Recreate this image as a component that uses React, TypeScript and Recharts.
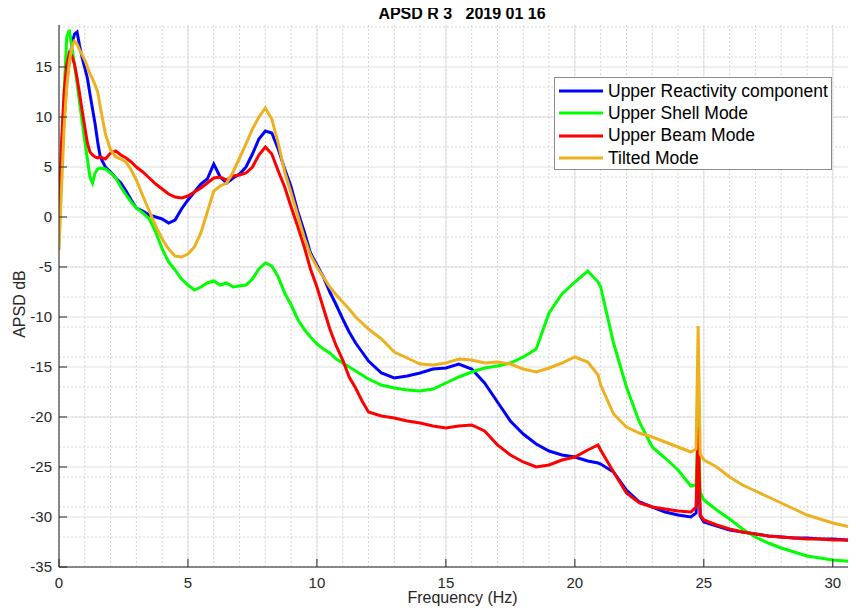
import React from 'react';
import { LineChart, Line, XAxis, YAxis, CartesianGrid, Legend } from 'recharts';

// frequency axis (Hz), shared by all four spectra
const freq = [
  0, 0.1, 0.2, 0.3, 0.4, 0.5, 0.6, 0.7, 0.8, 0.9, 1.0, 1.1, 1.2, 1.3, 1.4, 1.5, 1.6,
  1.8, 2.0, 2.2, 2.4, 2.6, 2.8, 3.0,
  3.25, 3.5, 3.75, 4.0, 4.25, 4.5, 4.75, 5.0, 5.25, 5.5, 5.75, 6.0, 6.25, 6.5, 6.75, 7.0,
  7.25, 7.5, 7.75, 8.0, 8.25, 8.5, 8.75, 9.0, 9.25, 9.5, 9.75, 10.0, 10.25, 10.5, 10.75, 11.0,
  11.25, 11.5, 11.75, 12.0,
  12.5, 13.0, 13.5, 14.0, 14.5, 15.0, 15.5, 16.0, 16.5, 17.0, 17.5, 18.0, 18.5, 19.0, 19.5, 20.0, 20.5,
  20.9, 21.0, 21.5, 22.0, 22.5, 23.0, 23.5, 24.0, 24.5, 24.7, 24.78, 24.86,
  25.0, 25.5, 26.0, 26.5, 27.0, 27.5, 28.0, 28.5, 29.0, 29.5, 30.0, 30.5, 30.9,
];

const upperReactivity = [
  0.2, 5.0, 10.0, 13.5, 15.6, 17.2, 18.3, 18.5, 17.1, 15.9, 14.9, 13.9, 12.3, 10.8, 9.3, 7.5, 6.0,
  5.0, 4.5, 3.9, 3.4, 2.6, 1.7, 0.9,
  0.6, 0.2, 0.0, -0.2, -0.6, -0.3, 0.8, 1.7, 2.5, 3.3, 3.8, 5.3, 4.0, 3.4, 3.9, 4.3,
  5.0, 6.3, 7.8, 8.6, 8.4, 6.8, 4.8, 3.0, 0.6, -1.4, -3.6, -4.8, -6.0, -7.5, -8.8, -10.2,
  -11.5, -12.6, -13.5, -14.4,
  -15.6, -16.1, -15.9, -15.6, -15.2, -15.1, -14.7, -15.2, -16.6, -18.5, -20.4, -21.7, -22.7, -23.4, -23.8, -24.0, -24.4,
  -24.6, -24.7, -25.5, -27.3, -28.5, -29.0, -29.5, -29.8, -30.0, -29.6, -24.0, -29.9,
  -30.5, -30.9, -31.3, -31.5, -31.7, -31.9, -32.0, -32.1, -32.1, -32.2, -32.2, -32.3, -32.3,
];

const upperShell = [
  0.3, 6.5, 12.5, 18.0, 18.7, 17.0, 15.2, 13.4, 11.4, 9.5, 7.6, 5.8, 4.0, 3.4, 4.4, 4.8, 4.9,
  4.8, 4.4, 3.9, 3.0, 2.2, 1.5, 0.9,
  0.4, -0.2, -1.5, -3.2, -4.5, -5.3, -6.2, -6.8, -7.3, -7.0, -6.6, -6.4, -6.8, -6.6, -7.0, -6.9,
  -6.8, -6.2, -5.2, -4.6, -4.9, -6.0, -7.6, -8.8, -10.2, -11.2, -12.0, -12.7, -13.2, -13.6, -14.2, -14.6,
  -15.0, -15.4, -15.8, -16.2,
  -16.8, -17.1, -17.3, -17.4, -17.2, -16.6, -16.0, -15.5, -15.1, -14.9, -14.6, -14.0, -13.2, -9.6, -7.7, -6.5, -5.4,
  -6.5, -7.0, -12.6, -17.0, -20.5, -23.0, -24.1, -25.3, -26.9, -26.8, -20.0, -27.5,
  -28.3, -29.3, -30.2, -31.2, -32.0, -32.6, -33.1, -33.5, -33.9, -34.1, -34.3, -34.4, -34.5,
];

const upperBeam = [
  0.0, 7.5, 12.5, 15.2, 16.4, 16.1, 15.3, 13.9, 12.3, 10.6, 9.0, 7.4, 6.5, 6.2, 6.0, 5.9, 6.0,
  5.8, 6.4, 6.6, 6.2, 5.9, 5.5, 5.0,
  4.5, 3.9, 3.3, 2.8, 2.3, 2.0, 1.9, 2.1, 2.5, 2.9, 3.4, 3.9, 4.0, 3.7, 4.1, 4.2,
  4.4, 5.0, 6.2, 7.0, 6.3, 4.6, 3.0, 1.0, -0.9, -2.9, -5.2, -7.0, -9.1, -11.2, -12.9, -14.3,
  -16.0, -17.1, -18.4, -19.5,
  -19.9, -20.1, -20.4, -20.6, -20.9, -21.1, -20.9, -20.8, -21.4, -22.8, -23.8, -24.5, -25.0, -24.8, -24.3, -24.0, -23.3,
  -22.8, -23.3, -25.5, -27.6, -28.6, -29.0, -29.2, -29.4, -29.5, -29.0, -21.0, -29.8,
  -30.3, -30.8, -31.2, -31.5, -31.7, -31.9, -32.0, -32.1, -32.2, -32.2, -32.3, -32.3, -32.4,
];

const tiltedMode = [
  -3.3, 3.0, 9.0, 13.0, 15.5, 17.0, 17.6, 17.3, 16.7, 16.2, 15.7, 15.0, 14.3, 13.8, 13.2, 12.5, 11.0,
  8.3, 6.7, 6.0, 5.8, 5.5, 4.7, 3.7,
  2.1, 0.6, -0.9, -2.2, -3.2, -3.9, -4.0, -3.7, -3.0, -1.6, 0.5, 2.6, 3.1, 3.4, 4.5, 5.9,
  7.3, 8.8, 10.0, 10.9, 9.8, 7.4, 4.5, 2.4, 0.2, -2.0, -3.8, -5.0, -6.0, -7.0, -7.8, -8.5,
  -9.2, -10.0, -10.6, -11.2,
  -12.2, -13.5, -14.1, -14.7, -14.8, -14.6, -14.2, -14.3, -14.6, -14.5, -14.7, -15.2, -15.5, -15.1, -14.6, -14.0, -14.5,
  -15.8, -16.8, -19.7, -21.0, -21.6, -22.0, -22.5, -23.0, -23.5, -23.2, -10.9, -23.7,
  -24.3, -25.0, -26.0, -26.8, -27.4, -28.0, -28.6, -29.2, -29.8, -30.2, -30.6, -30.9, -31.1,
];

const xTicks = [0, 5, 10, 15, 20, 25, 30];
const yTicks = [-35, -30, -25, -20, -15, -10, -5, 0, 5, 10, 15];
const xMinor = Array.from({ length: 31 }, (_, i) => i);
const yMinor = Array.from({ length: 55 }, (_, i) => i - 35);

const series = [
  { key: 'blue', name: 'Upper Reactivity component', color: '#0000ff', values: upperReactivity },
  { key: 'green', name: 'Upper Shell Mode', color: '#00ff00', values: upperShell },
  { key: 'red', name: 'Upper Beam Mode', color: '#ff0000', values: upperBeam },
  { key: 'orange', name: 'Tilted Mode', color: '#edb120', values: tiltedMode },
];

const rows = freq.map((f, i) => {
  const row: Record<string, number> = { f };
  series.forEach((s) => { row[s.key] = s.values[i]; });
  return row;
});

const FONT = 'Arial, "Liberation Sans", Helvetica, sans-serif';
const AXIS = '#262626';

// legend keeps the plotting order (recharts would sort it by name)
const renderLegend = () => (
  <div style={{
    border: '1px solid #8c8c8c', background: '#fff', padding: '2px 0 0 3px',
    boxSizing: 'border-box', width: 278, height: 93, fontFamily: FONT,
  }}>
    {series.map((s) => (
      <div key={s.key} style={{ display: 'flex', alignItems: 'center', height: 22.3 }}>
        <svg width={46} height={6} style={{ marginRight: 4 }}>
          <line x1={1} y1={3} x2={45} y2={3} stroke={s.color} strokeWidth={3} />
        </svg>
        <span style={{ fontSize: 17.5, color: '#000', whiteSpace: 'nowrap' }}>{s.name}</span>
      </div>
    ))}
  </div>
);

const App: React.FC = () => (
  <div style={{ position: 'relative', width: 848, height: 606, fontFamily: FONT }}>
    <div style={{
      position: 'absolute', left: 304, top: -3, width: 300, textAlign: 'center',
      fontWeight: 'bold', fontSize: 16, lineHeight: '17px', whiteSpace: 'pre', color: '#000',
    }}>
      {'APSD R 3   2019 01 16'}
    </div>
    <LineChart width={848} height={606} data={rows} margin={{ top: 17, right: 0, left: 0, bottom: 0 }}>
      <CartesianGrid stroke="#d4d4d4" strokeDasharray="2 2" horizontalValues={yMinor} verticalValues={xMinor} />
      <CartesianGrid stroke="#dedede" horizontalValues={yTicks} verticalValues={xTicks} />
      <XAxis
        type="number" dataKey="f" domain={[0, 30.9]} ticks={xTicks} allowDataOverflow
        height={47} tickSize={-8} tickMargin={18}
        stroke={AXIS} tick={{ fontSize: 15, fill: AXIS, fontFamily: FONT }}
        label={{
          content: () => (
            <text x={454.5} y={595} textAnchor="middle" fontSize={16} fill={AXIS} fontFamily={FONT}>
              Frequency (Hz)
            </text>
          ),
        }}
      />
      <YAxis
        type="number" domain={[-35, 19.2]} ticks={yTicks} allowDataOverflow
        width={51} tickSize={-8} tickMargin={15}
        stroke={AXIS} tick={{ fontSize: 15, fill: AXIS, fontFamily: FONT }}
        label={{
          content: () => (
            <text x={17} y={296} transform="rotate(-90 17 296)" textAnchor="middle" fontSize={16} fill={AXIS} fontFamily={FONT}>
              APSD dB
            </text>
          ),
        }}
      />
      {series.map((s) => (
        <Line
          key={s.key} type="linear" dataKey={s.key} name={s.name} stroke={s.color}
          strokeWidth={3} dot={false} activeDot={false} isAnimationActive={false}
        />
      ))}
      <Legend
        layout="vertical" align="center" verticalAlign="middle" content={renderLegend}
        wrapperStyle={{ left: 546, top: 69, width: 278, height: 93 }}
      />
    </LineChart>
  </div>
);

export default App;
